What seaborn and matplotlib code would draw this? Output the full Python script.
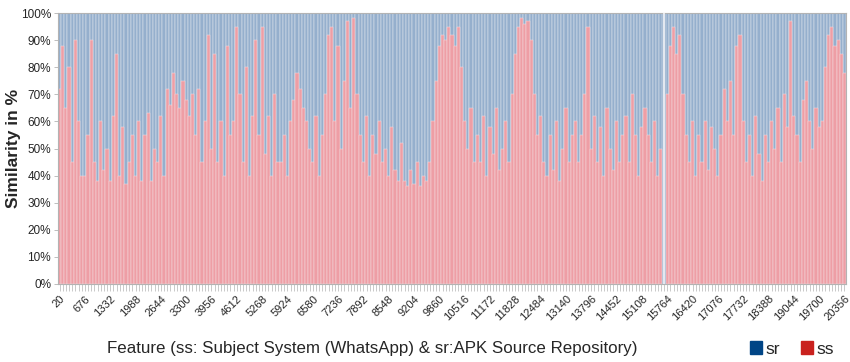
import numpy as np
import pandas as pd
import matplotlib
from matplotlib import pyplot as plt
from matplotlib.patches import Patch
import seaborn as sns

sns.set_style('white')
plt.rcParams['font.family'] = ['Liberation Sans', 'DejaVu Sans']

# feature ids on the x axis (one bar per feature sample)
features = np.arange(20, 20357, 82)

# ss share in % (sr is the rest up to 100 %), nan = missing feature
ss = [
    72, 88, 65, 80, 45, 90, 60, 40,
    40, 55, 90, 45, 38, 60, 42, 50,
    38, 62, 85, 40, 58, 37, 45, 55,
    40, 60, 38, 55, 63, 38, 50,
    45, 62, 40, 72, 66, 78, 70, 65,
    75, 68, 62, 70, 55, 72, 45, 60,
    92, 50, 85, 45, 60, 40, 88, 55,
    60, 95, 70, 45, 80, 40, 62,
    90, 55, 95, 48, 62, 40, 70, 45,
    45, 55, 40, 60, 68, 78, 72, 65,
    60, 50, 45, 62, 40, 55, 70, 92,
    95, 60, 88, 50, 75, 97, 65,
    98, 70, 55, 45, 62, 40, 55, 48,
    60, 45, 50, 40, 58, 42, 38, 52,
    38, 36, 42, 37, 45, 36, 40, 38,
    45, 60, 75, 88, 92, 90, 95,
    92, 88, 95, 80, 60, 50, 65, 45,
    55, 45, 62, 40, 58, 48, 65, 42,
    50, 60, 45, 70, 85, 95, 98, 96,
    97, 90, 70, 55, 62, 45, 40,
    55, 42, 60, 38, 50, 65, 45, 55,
    60, 45, 55, 70, 95, 50, 62, 45,
    58, 40, 65, 50, 42, 60, 45, 55,
    62, 45, 70, 55, 40, 58, 65,
    55, 45, 60, 40, 50, np.nan, 70, 88,
    95, 85, 92, 70, 55, 45, 60, 40,
    55, 45, 60, 42, 58, 50, 40, 55,
    72, 60, 75, 55, 88, 92, 60,
    45, 55, 40, 62, 48, 38, 55, 45,
    60, 50, 65, 45, 70, 58, 97, 62,
    55, 45, 68, 75, 60, 50, 65, 58,
    60, 80, 92, 95, 88, 90, 85, 78,
]
assert len(ss) == len(features)

df = pd.DataFrame({'feature': features.astype(str), 'ss': ss})
df['sr'] = 100 - df['ss']
df['top'] = df['ss'] + df['sr']
order = list(df['feature'])

fig = plt.figure(figsize=(8.5, 3.62), dpi=100)
ax = fig.add_axes([58/850, 78/362, 788/850, 271/362])

sns.barplot(data=df, x='feature', y='top', order=order, color='#95afcd', saturation=1,
            width=1, edgecolor='#e4e9f0', linewidth=0.35, errorbar=None, ax=ax)
sns.barplot(data=df, x='feature', y='ss', order=order, color='#ee9ea5', saturation=1,
            width=1, edgecolor='#f4dfe2', linewidth=0.35, errorbar=None, ax=ax)

# missing feature shows as a pale thin line, not a full white bar
gap = int(np.flatnonzero(df['ss'].isna())[0])
ax.axvspan(gap - 0.5, gap + 0.5, color='#95afcd', lw=0, zorder=0.5)
ax.axvline(gap, color='#f3f4f8', lw=1.2, zorder=3)

ax.set_xlim(-0.5, len(features) - 0.5)
ax.set_ylim(0, 100)
ax.set_yticks(range(0, 101, 10))
ax.set_yticklabels([f'{v}%' for v in range(0, 101, 10)], fontsize=8.5)
ax.set_xticks(range(0, len(features), 8))
ax.set_xticklabels(features[::8], rotation=45, ha='right', rotation_mode='anchor', fontsize=8)
ax.set_xticks(range(len(features)), minor=True)
ax.tick_params(axis='x', which='both', length=5, width=0.5, color='#b3b3b3', pad=2, bottom=True)
ax.tick_params(axis='y', length=3, width=0.6, color='#b3b3b3', pad=2, left=True)
for s in ax.spines.values():
    s.set_color('#b3b3b3')
    s.set_linewidth(0.8)

ax.set_xlabel('')
ax.set_ylabel('Similarity in %', fontsize=12.5, fontweight='bold', labelpad=0)

fig.text(0.438, 0.036, 'Feature (ss: Subject System (WhatsApp) & sr:APK Source Repository)',
         ha='center', va='center', fontsize=12.2)

handles = [Patch(color='#004586', label='sr'), Patch(color='#c9211e', label='ss')]
fig.legend(handles=handles, loc='center right', bbox_to_anchor=(1.0, 0.036), ncol=2,
           frameon=False, fontsize=12.5, handlelength=0.7, handleheight=0.7,
           handletextpad=0.2, columnspacing=1.2)

plt.savefig('out.png', dpi=100)
